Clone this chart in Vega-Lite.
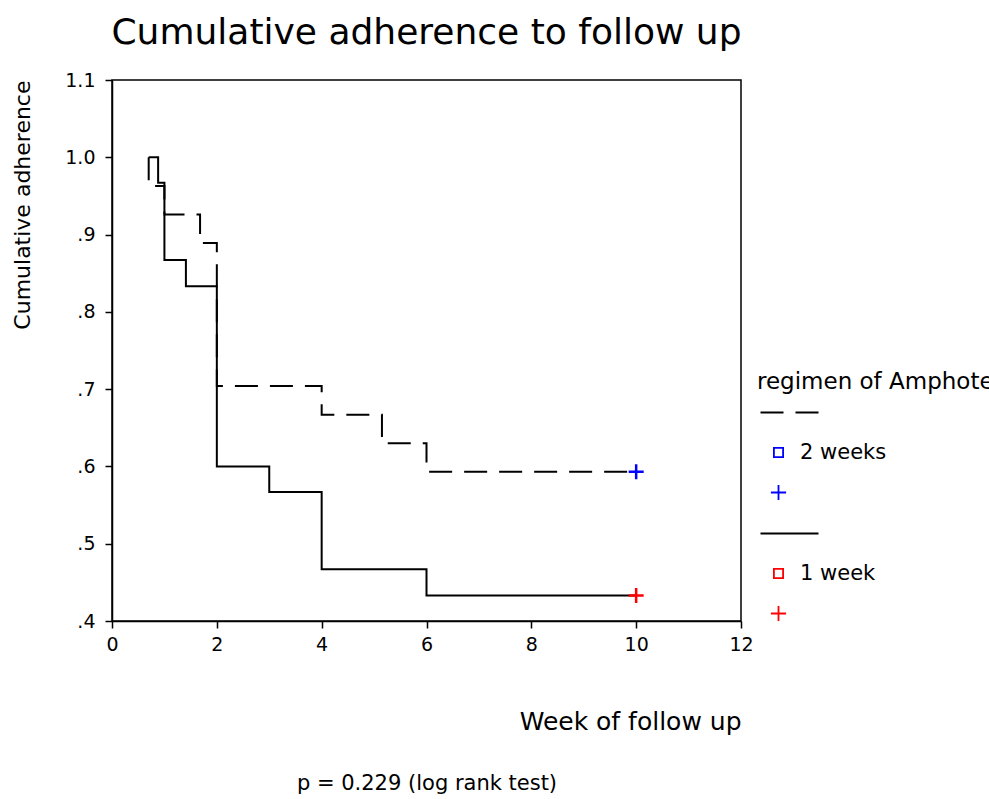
{
  "$schema": "https://vega.github.io/schema/vega-lite/v6.json",
  "width": 629,
  "height": 541,
  "autosize": {"type": "none"},
  "padding": {"left": 112, "top": 80, "right": 248, "bottom": 178},
  "background": "white",
  "title": {"text": "Cumulative adherence to follow up", "fontSize": 36, "font": "DejaVu Sans", "fontWeight": "normal", "anchor": "middle", "frame": "group", "offset": 19, "color": "black"},
  "config": {
    "font": "DejaVu Sans",
    "view": {"stroke": "black", "strokeWidth": 1.5},
    "axis": {"grid": false, "labelFlush": false, "domainColor": "black", "domainWidth": 1.5, "tickColor": "black", "tickWidth": 1.5, "labelColor": "black", "titleColor": "black", "titleFontWeight": "normal", "labelFont": "DejaVu Sans", "titleFont": "DejaVu Sans"},
    "legend": {"labelFont": "DejaVu Sans", "titleFont": "DejaVu Sans"}
  },
  "datasets": {
    "curves": [
      {"group": "2 weeks", "week": 0.7, "adherence": 1.0},
      {"group": "2 weeks", "week": 0.7, "adherence": 0.963},
      {"group": "2 weeks", "week": 1.0, "adherence": 0.926},
      {"group": "2 weeks", "week": 1.68, "adherence": 0.889},
      {"group": "2 weeks", "week": 2.0, "adherence": 0.704},
      {"group": "2 weeks", "week": 4.0, "adherence": 0.667},
      {"group": "2 weeks", "week": 5.15, "adherence": 0.63},
      {"group": "2 weeks", "week": 6.0, "adherence": 0.593},
      {"group": "2 weeks", "week": 10.0, "adherence": 0.593},
      {"group": "1 week", "week": 0.7, "adherence": 1.0},
      {"group": "1 week", "week": 0.88, "adherence": 0.967},
      {"group": "1 week", "week": 1.0, "adherence": 0.867},
      {"group": "1 week", "week": 1.41, "adherence": 0.833},
      {"group": "1 week", "week": 2.0, "adherence": 0.6},
      {"group": "1 week", "week": 3.0, "adherence": 0.567},
      {"group": "1 week", "week": 4.0, "adherence": 0.467},
      {"group": "1 week", "week": 6.0, "adherence": 0.433},
      {"group": "1 week", "week": 10.0, "adherence": 0.433}
    ],
    "censored": [
      {"group": "2 weeks", "week": 10.0, "adherence": 0.593},
      {"group": "1 week", "week": 10.0, "adherence": 0.433}
    ]
  },
  "layer": [
    {
      "data": {"name": "curves"},
      "mark": {"type": "line", "interpolate": "step-after", "color": "black", "strokeWidth": 2},
      "encoding": {
        "x": {"field": "week", "type": "quantitative", "scale": {"domain": [0, 12], "nice": false, "zero": false},
          "axis": {"orient": "bottom", "values": [0, 2, 4, 6, 8, 10, 12], "tickSize": 7, "labelFontSize": 19, "labelPadding": 7, "title": "Week of follow up", "titleFontSize": 25, "titleAnchor": "end", "titlePadding": 55}},
        "y": {"field": "adherence", "type": "quantitative", "scale": {"domain": [0.4, 1.1], "nice": false, "zero": false},
          "axis": {"values": [0.4, 0.5, 0.6, 0.7, 0.8, 0.9, 1.0, 1.1], "labelExpr": "datum.value >= 1 ? format(datum.value, '.1f') : replace(format(datum.value, '.1f'), '0.', '.')", "tickSize": 7, "labelFontSize": 19, "labelPadding": 10, "title": "Cumulative adherence", "titleFontSize": 22, "titleAnchor": "end", "titlePadding": 30}},
        "order": [{"field": "week", "type": "quantitative"}, {"field": "adherence", "type": "quantitative", "sort": "descending"}],
        "strokeDash": {"field": "group", "type": "nominal",
          "scale": {"domain": ["2 weeks", "2 weeks (label)", "2 weeks (censored)", "1 week", "1 week (label)", "1 week (censored)"], "range": [[23, 12], [1, 0], [1, 0], [1, 0], [1, 0], [1, 0]]},
          "legend": {
            "title": "regimen of Amphotericin B",
            "orient": "none", "legendX": 645, "legendY": 291,
            "padding": 0, "titleFontSize": 23, "titleFontWeight": "normal", "titleColor": "black", "titleLimit": 600, "titlePadding": 8,
            "labelFontSize": 21, "labelColor": "black", "labelOffset": 11, "symbolOffset": 11, "symbolSize": 64, "rowPadding": 18,
            "symbolType": {"expr": "datum.index % 3 == 0 ? 'M-4.5,0L10,0' : (datum.index % 3 == 1 ? 'M-1.15,-1.15L1.15,-1.15L1.15,1.15L-1.15,1.15Z' : 'M-1.9,0L1.9,0M0,-1.9L0,1.9')"},
            "symbolStrokeColor": {"expr": "datum.index % 3 == 0 ? 'black' : (datum.index < 3 ? '#0000ff' : '#ff0000')"},
            "symbolStrokeWidth": {"expr": "datum.index % 3 == 0 ? 2 : 1.8"},
            "symbolFillColor": "transparent",
            "labelExpr": "datum.label == '2 weeks (label)' ? '2 weeks' : (datum.label == '1 week (label)' ? '1 week' : '')"
          }}
      }
    },
    {
      "data": {"name": "censored"},
      "mark": {"type": "point", "shape": "M-1,0L1,0M0,-1L0,1", "size": 225, "filled": false, "strokeWidth": 2.5, "opacity": 1},
      "encoding": {
        "x": {"field": "week", "type": "quantitative",
          "axis": {"orient": "bottom", "labels": false, "ticks": false, "domain": false, "title": "p = 0.229 (log rank test)", "titleFontSize": 21, "titleAnchor": "middle", "titlePadding": 151}},
        "y": {"field": "adherence", "type": "quantitative"},
        "color": {"field": "group", "type": "nominal", "scale": {"domain": ["2 weeks", "1 week"], "range": ["#0000ff", "#ff0000"]}, "legend": null}
      }
    }
  ],
  "resolve": {"axis": {"x": "independent"}}
}
